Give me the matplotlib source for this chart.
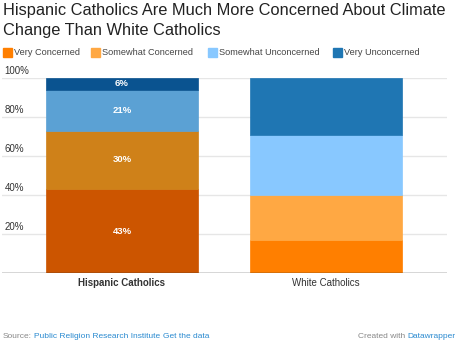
import matplotlib
matplotlib.use("Agg")
import matplotlib.pyplot as plt
import numpy as np

# Data
groups = ["Hispanic Catholics", "White Catholics"]
levels = ["Very Concerned", "Somewhat Concerned", "Somewhat Unconcerned", "Very Unconcerned"]
hispanic = [43, 30, 21, 6]
white = [17, 23, 31, 29]
yticks = [20, 40, 60, 80, 100]

# Colours: base palette (legend, white bar) and darker highlight (hispanic bar)
base_colors = ["#FF7F00", "#FFA843", "#88C8FF", "#1F76B3"]
hi_colors = ["#CC5500", "#CF8119", "#5BA1D4", "#0A5390"]

plt.rcParams["font.family"] = ["Liberation Sans", "DejaVu Sans"]

W, H = 457, 341
fig = plt.figure(figsize=(W / 100, H / 100), dpi=100)
ax = fig.add_axes([2 / W, 1 - 273 / H, 445 / W, (273 - 78) / H])

ax.set_xlim(-0.588, 1.593)
ax.set_ylim(0, 100)

for yv in yticks:
    ax.axhline(yv, color="#e6e6e6", lw=1.0, zorder=0)

series = [hispanic, white]
palettes = [hi_colors, base_colors]
width = 0.745
for i, (vals, cols) in enumerate(zip(series, palettes)):
    bottom = 0
    for v, c in zip(vals, cols):
        ax.bar(i, v, width=width, bottom=bottom, color=c, edgecolor=c,
               lw=0.5, zorder=2)
        if i == 0:
            ax.text(i, bottom + v / 2, f"{v}%", ha="center", va="center",
                    color="white", fontsize=6.8, fontweight="bold", zorder=3)
        bottom += v

ax.axhline(0, color="#333333", lw=1.0, zorder=4)

for spine in ax.spines.values():
    spine.set_visible(False)
ax.set_xticks([])
ax.set_yticks([])

# Y labels sit above their gridlines at the left edge
for yv in yticks:
    ax.annotate(f"{yv}%", xy=(0, yv), xycoords=("axes fraction", "data"),
                xytext=(2, 5), textcoords="offset points",
                ha="left", va="center", fontsize=7, color="#333333")

# Category labels
for i, g in enumerate(groups):
    ax.annotate(g, xy=(i, 0), xycoords="data", xytext=(0, -7),
                textcoords="offset points", ha="center", va="center",
                fontsize=7, color="#333333",
                fontweight="bold" if i == 0 else "normal")

# Title
fig.text(3 / W, 1 - 11 / H, "Hispanic Catholics Are Much More Concerned About Climate",
         ha="left", va="center", fontsize=11.75, color="#222222")
fig.text(3 / W, 1 - 30 / H, "Change Than White Catholics",
         ha="left", va="center", fontsize=11.75, color="#222222")

# Legend
leg_x = [3, 91, 208, 333]
for x0, lab, c in zip(leg_x, levels, base_colors):
    fig.patches.append(plt.Rectangle((x0 / W, 1 - 57 / H), 9 / W, 9 / H,
                                     transform=fig.transFigure, color=c))
    fig.text((x0 + 11) / W, 1 - 52.5 / H, lab, ha="left", va="center",
             fontsize=6.6, color="#444444")

# Footer
fs = 6.0
link = "#2a8ad0"
grey = "#888888"
fy = 1 - 336 / H
fig.canvas.draw()
r = fig.canvas.get_renderer()


def run(x, txt, is_link):
    """Draw a text piece from pixel x; underline it when it is a link."""
    tt = fig.text(x / W, fy, txt, ha="left", va="center", fontsize=fs,
                  color=link if is_link else grey)
    w = tt.get_window_extent(r).width
    if is_link:
        fig.add_artist(plt.Line2D([x / W, (x + w) / W], [fy - 4.5 / H, fy - 4.5 / H],
                                  transform=fig.transFigure, color=link, lw=0.6))
    return x + w


def width_of(txt):
    tt = fig.text(0, 0, txt, fontsize=fs)
    w = tt.get_window_extent(r).width
    tt.remove()
    return w


space = width_of("a b") - width_of("ab")
x = run(3, "Source:", False)
x = run(x + space, "Public Religion Research Institute", True)
run(x + space, "Get the data", True)

right_w = width_of("Created with") + space + width_of("Datawrapper")
x = run(456 - right_w, "Created with", False)
run(x + space, "Datawrapper", True)

fig.savefig("out.png", dpi=100, facecolor="white")
